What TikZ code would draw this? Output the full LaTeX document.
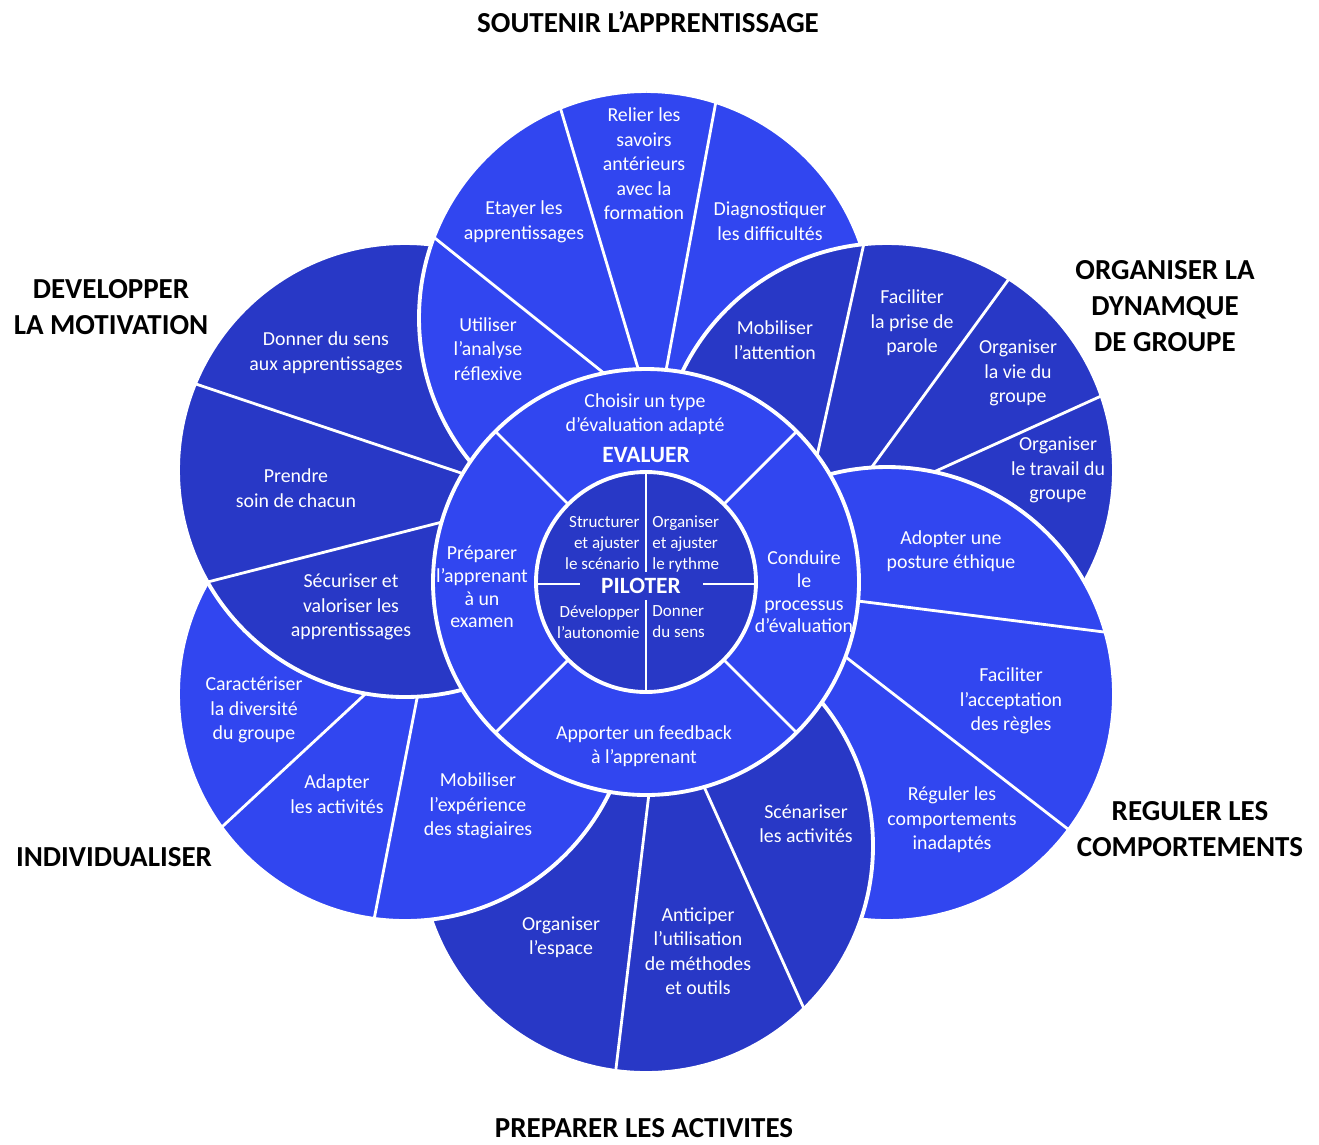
\documentclass[tikz,border=0pt]{standalone}
\usepackage{fontspec}
\setmainfont{Carlito}
\usepackage{tikz}
\definecolor{mlight}{RGB}{49, 70, 240}
\definecolor{mdark}{RGB}{40, 56, 198}
\tikzset{rim/.style = {draw = white, line width = 2.2pt}}
\tikzset{spoke/.style = {draw = white, line width = 1.6pt}}
\tikzset{lbl/.style = {text = white, align = center, inner sep = 0, font = \fontsize{11.3}{13.9}\selectfont}}
\tikzset{inlbl/.style = {text = white, inner sep = 0, font = \fontsize{9.7}{11.9}\selectfont}}
\tikzset{core/.style = {text = white, inner sep = 0, font = \bfseries\fontsize{13.3}{16}\selectfont}}
\tikzset{head/.style = {align = center, inner sep = 0, font = \bfseries\fontsize{16.5}{20.4}\selectfont}}

\begin{document}
\begin{tikzpicture}[x = 0.02cm, y = -0.02cm]

      \useasboundingbox (0, 0) rectangle (1319, 1144);

      \fill [mlight] (646, 318) circle (227);
      \begin{scope}
        \clip (646, 318) circle (227);
        \draw [spoke] (421, 227) -- (610, 378);
        \draw [spoke] (555, 90) -- (640, 375);
        \draw [spoke] (719, 85) -- (665, 376);
      \end{scope}
      \draw [rim] (646, 318) circle (227);

      \fill [mdark] (887, 470) circle (227);
      \begin{scope}
        \clip (887, 470) circle (227);
        \draw [spoke] (868, 225) -- (815, 465);
        \draw [spoke] (1022, 261) -- (866, 475);
        \draw [spoke] (1121, 387) -- (925, 476);
      \end{scope}
      \draw [rim] (887, 470) circle (227);

      \fill [mlight] (887, 694) circle (227);
      \begin{scope}
        \clip (887, 694) circle (227);
        \draw [spoke] (850, 600) -- (1120, 634);
        \draw [spoke] (838, 651) -- (1082, 840);
      \end{scope}
      \draw [rim] (887, 694) circle (227);

      \fill [mdark] (646, 846) circle (227);
      \begin{scope}
        \clip (646, 846) circle (227);
        \draw [spoke] (650, 785) -- (614, 1085);
        \draw [spoke] (701, 780) -- (810, 1022);
      \end{scope}
      \draw [rim] (646, 846) circle (227);

      \fill [mlight] (405, 694) circle (227);
      \begin{scope}
        \clip (405, 694) circle (227);
        \draw [spoke] (375, 685) -- (210, 838);
        \draw [spoke] (420, 683) -- (372, 930);
      \end{scope}
      \draw [rim] (405, 694) circle (227);

      \fill [mdark] (405, 470) circle (227);
      \begin{scope}
        \clip (405, 470) circle (227);
        \draw [spoke] (178, 378) -- (470, 476);
        \draw [spoke] (192, 586) -- (450, 520);
      \end{scope}
      \draw [rim] (405, 470) circle (227);

      \begin{scope}
        \clip (0, 0) rectangle (646, 1144);
        \fill [mlight] (646, 318) circle (227);
        \begin{scope}
          \clip (646, 318) circle (227);
          \draw [spoke] (421, 227) -- (610, 378);
          \draw [spoke] (555, 90) -- (640, 375);
        \end{scope}
        \draw [rim] (646, 318) circle (227);
      \end{scope}

      \fill [mlight] (646, 582) circle (213);
      \draw [spoke] (495, 431) -- (797, 733);
      \draw [spoke] (797, 431) -- (495, 733);
      \draw [rim] (646, 582) circle (213);

      \fill [mdark] (646, 582) circle (110);
      \draw [rim] (646, 582) circle (110);
      \draw [spoke] (646, 472) -- (646, 692);
      \draw [spoke] (536, 584) -- (756, 584);
      \node [core, fill = mdark, minimum width = 70pt, minimum height = 16pt] (piloter) at (641, 586) {PILOTER};

      \node [inlbl, anchor = east, align = right] (structurer) at (640, 543) {Structurer\\et ajuster\\le scénario};
      \node [inlbl, anchor = west, align = left] (rythme) at (652, 544) {Organiser\\et ajuster\\le rythme};
      \node [inlbl, anchor = east, align = right] (autonomie) at (640, 622) {Développer\\l’autonomie};
      \node [inlbl, anchor = west, align = left] (donner) at (652, 622) {Donner\\du sens};

      \node [lbl] (choisir) at (645, 414) {Choisir un type\\d’évaluation adapté};
      \node [core] (evaluer) at (646, 455) {EVALUER};
      \node [lbl, font = \fontsize{11.3}{12.9}\selectfont] (preparer) at (482, 587) {Préparer\\l’apprenant\\à un\\examen};
      \node [lbl, font = \fontsize{11.3}{12.9}\selectfont] (conduire) at (804, 592) {Conduire\\le\\processus\\d’évaluation};
      \node [lbl] (feedback) at (644, 746) {Apporter un feedback\\à l’apprenant};

      \node [lbl] (etayer) at (524, 222) {Etayer les\\apprentissages};
      \node [lbl] (relier) at (644, 164) {Relier les\\savoirs\\antérieurs\\avec la\\formation};
      \node [lbl] (diagnostiquer) at (770, 221) {Diagnostiquer\\les difficultés};
      \node [lbl] (utiliser) at (488, 349) {Utiliser\\l’analyse\\réflexive};

      \node [lbl] (attention) at (775, 340) {Mobiliser\\l’attention};
      \node [lbl] (parole) at (912, 323) {Faciliter\\la prise de\\parole};
      \node [lbl] (vie) at (1018, 373) {Organiser\\la vie du\\groupe};
      \node [lbl] (travail) at (1058, 470) {Organiser\\le travail du\\groupe};

      \node [lbl] (posture) at (951, 551) {Adopter une\\posture éthique};
      \node [lbl] (regles) at (1011, 701) {Faciliter\\l’acceptation\\des règles};
      \node [lbl] (reguler) at (952, 820) {Réguler les\\comportements\\inadaptés};

      \node [lbl] (scenariser) at (806, 824) {Scénariser\\les activités};
      \node [lbl] (anticiper) at (698, 951) {Anticiper\\l’utilisation\\de méthodes\\et outils};
      \node [lbl] (espace) at (561, 937) {Organiser\\l’espace};

      \node [lbl] (experience) at (478, 806) {Mobiliser\\l’expérience\\des stagiaires};
      \node [lbl] (adapter) at (337, 794) {Adapter\\les activités};
      \node [lbl] (diversite) at (254, 710) {Caractériser\\la diversité\\du groupe};

      \node [lbl] (securiser) at (351, 607) {Sécuriser et\\valoriser les\\apprentissages};
      \node [lbl] (soin) at (296, 488) {Prendre\\soin de chacun};
      \node [lbl] (sens) at (326, 353) {Donner du sens\\aux apprentissages};

      \node [head] (soutenir) at (648, 22) {SOUTENIR L’APPRENTISSAGE};
      \node [head] (dynamique) at (1165, 306) {ORGANISER LA\\DYNAMQUE\\DE GROUPE};
      \node [head] (comportements) at (1190, 829) {REGULER LES\\COMPORTEMENTS};
      \node [head] (activites) at (644, 1128) {PREPARER LES ACTIVITES};
      \node [head] (individualiser) at (114, 857) {INDIVIDUALISER};
      \node [head] (motivation) at (111, 307) {DEVELOPPER\\LA MOTIVATION};

\end{tikzpicture}
\end{document}
